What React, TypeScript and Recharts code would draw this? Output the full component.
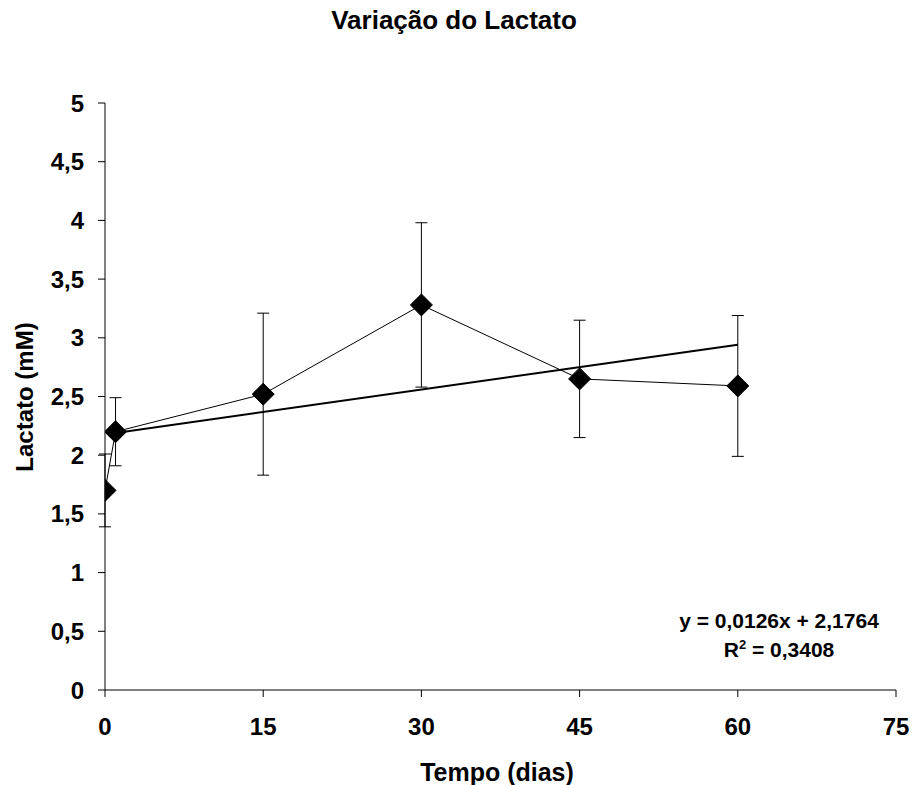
import React from "react";
import { ComposedChart, Line, XAxis, YAxis, ErrorBar } from "recharts";

// Data
const days = [0, 1, 15, 30, 45, 60];
const lactate = [1.7, 2.2, 2.52, 3.28, 2.65, 2.59];
const sd = [0.31, 0.29, 0.69, 0.7, 0.5, 0.6];
const trendX = [1, 60];
const trendY = [2.19, 2.94];
const xTicks = [0, 15, 30, 45, 60, 75];
const yTicks = [0, 0.5, 1, 1.5, 2, 2.5, 3, 3.5, 4, 4.5, 5];

const chartTitle = "Variação do Lactato";
const xTitle = "Tempo (dias)";
const yTitle = "Lactato (mM)";
const equation = "y = 0,0126x + 2,1764";
const r2Value = " = 0,3408";

const seriesData = days.map((d, i) => ({ x: d, y: lactate[i], err: sd[i] }));
const trendData = trendX.map((d, i) => ({ x: d, t: trendY[i] }));

const FONT = "'Liberation Sans', Arial, sans-serif";
const fmt = (v: number) => String(v).replace(".", ",");

const XTick = (props: any) => {
  const { x, y, payload } = props;
  return (
    <text x={x} y={y + 17} textAnchor="middle" fontFamily={FONT} fontWeight="bold" fontSize={24} fill="#000">
      {fmt(payload.value)}
    </text>
  );
};

const YTick = (props: any) => {
  const { x, y, payload } = props;
  return (
    <text x={x} y={y + 8.5} textAnchor="end" fontFamily={FONT} fontWeight="bold" fontSize={24} fill="#000">
      {fmt(payload.value)}
    </text>
  );
};

const Diamond = (props: any) => {
  const { cx, cy } = props;
  if (cx == null || cy == null) return null;
  const r = 11;
  return (
    <polygon
      points={`${cx},${cy - r} ${cx + r},${cy} ${cx},${cy + r} ${cx - r},${cy}`}
      fill="#000"
      stroke="#000"
      strokeWidth={1}
    />
  );
};

export default function App() {
  return (
    <div style={{ position: "absolute", left: 0, top: 0, width: 912, height: 785, background: "#fff" }}>
      <ComposedChart
        width={912}
        height={785}
        margin={{ top: 103, right: 16, bottom: 0, left: 0 }}
      >
        <XAxis
          type="number"
          dataKey="x"
          domain={[0, 75]}
          ticks={xTicks}
          allowDataOverflow
          height={95}
          tickSize={7}
          tickMargin={21}
          tick={<XTick />}
          axisLine={{ stroke: "#000", strokeWidth: 1 }}
          tickLine={{ stroke: "#000", strokeWidth: 1 }}
        />
        <YAxis
          type="number"
          domain={[0, 5]}
          ticks={yTicks}
          width={105}
          tickSize={7}
          tickMargin={14}
          tick={<YTick />}
          axisLine={{ stroke: "#000", strokeWidth: 1 }}
          tickLine={{ stroke: "#000", strokeWidth: 1 }}
        />
        <Line
          data={trendData}
          dataKey="t"
          type="linear"
          stroke="#000"
          strokeWidth={2}
          dot={false}
          activeDot={false}
          isAnimationActive={false}
        />
        <Line
          data={seriesData}
          dataKey="y"
          type="linear"
          stroke="#000"
          strokeWidth={1}
          dot={<Diamond />}
          activeDot={false}
          isAnimationActive={false}
        >
          <ErrorBar dataKey="err" direction="y" width={6} stroke="#000" strokeWidth={1} isAnimationActive={false} />
        </Line>
      </ComposedChart>
      <svg
        width={912}
        height={785}
        style={{ position: "absolute", left: 0, top: 0, pointerEvents: "none" }}
      >
        <text x={454} y={29} textAnchor="middle" fontFamily={FONT} fontWeight="bold" fontSize={26} fill="#000">
          {chartTitle}
        </text>
        <text x={497} y={781} textAnchor="middle" fontFamily={FONT} fontWeight="bold" fontSize={25} fill="#000">
          {xTitle}
        </text>
        <g transform="translate(33,397) rotate(-90)">
          <text textAnchor="middle" fontFamily={FONT} fontWeight="bold" fontSize={24} fill="#000">
            {yTitle}
          </text>
        </g>
        <text x={779} y={628} textAnchor="middle" fontFamily={FONT} fontWeight="bold" fontSize={21} fill="#000">
          {equation}
        </text>
        <text x={779} y={657} textAnchor="middle" fontFamily={FONT} fontWeight="bold" fontSize={21} fill="#000">
          R<tspan fontSize={13} dy={-8}>2</tspan>
          <tspan dy={8}>{r2Value}</tspan>
        </text>
      </svg>
    </div>
  );
}
